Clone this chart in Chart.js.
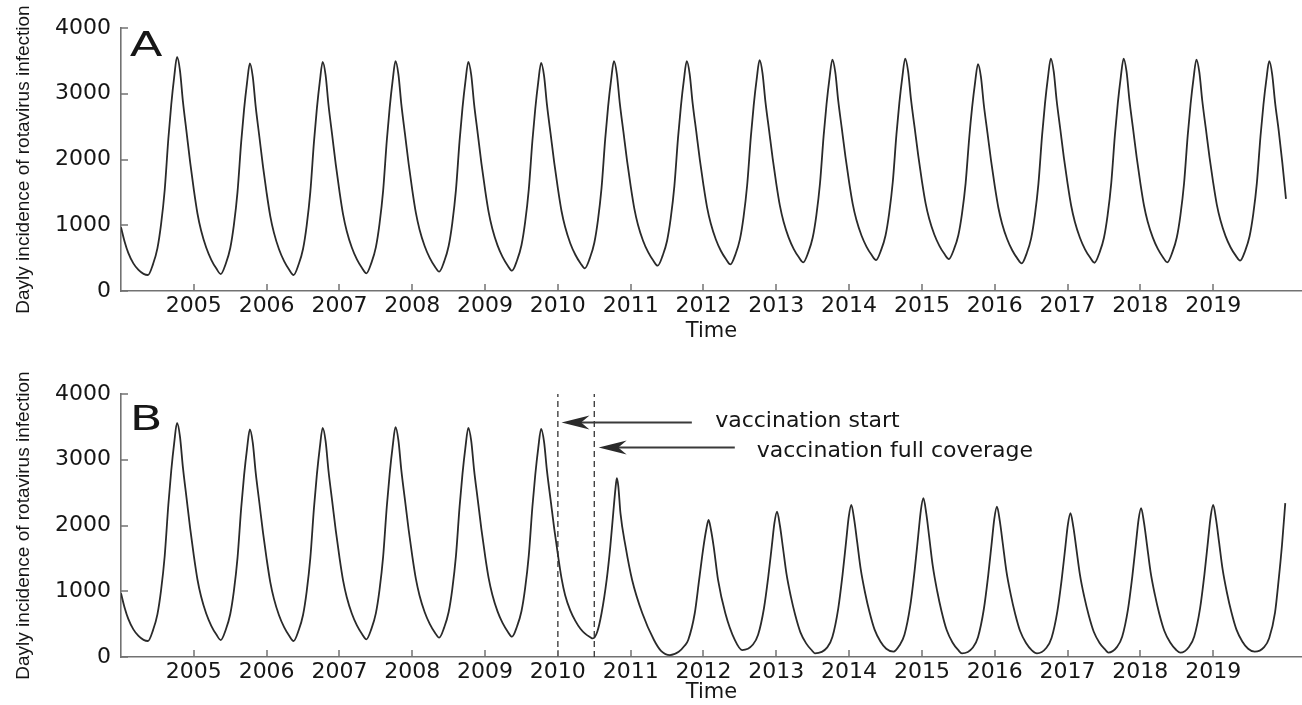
<!DOCTYPE html>
<html>
<head>
<meta charset="utf-8">
<script src="https://cdn.jsdelivr.net/npm/chart.js@4.4.1/dist/chart.umd.min.js"></script>
<style>
  html, body { margin: 0; padding: 0; background: #ffffff; }
  #wrap { position: relative; width: 1302px; height: 705px; overflow: hidden; }
  .panel { position: absolute; left: 0; width: 1302px; }
  #panelA { top: 0; height: 352px; }
  #panelB { top: 352px; height: 353px; }
</style>
</head>
<body>
<div id="wrap">
  <div class="panel" id="panelA"><canvas id="chartA"></canvas></div>
  <div class="panel" id="panelB"><canvas id="chartB"></canvas></div>
</div>
<script>
// ---- Data -------------------------------------------------------------
// Each season row holds the daily incidence sampled at the same fractions of the year.
const seasonYears = [2004, 2005, 2006, 2007, 2008, 2009, 2010, 2011,
                     2012, 2013, 2014, 2015, 2016, 2017, 2018, 2019];
const sampleOffsets = [0.00, 0.05, 0.10, 0.17, 0.24, 0.31, 0.37, 0.44, 0.50, 0.55,
                       0.60, 0.65, 0.69, 0.73, 0.77, 0.81, 0.85, 0.90, 0.95];

// Scenario A: no vaccination
const incidenceA = [
  [ 970,  750,  580,  420,  320,  260,  243,  409,  649, 1013, 1533, 2312, 2833, 3249, 3560, 3353, 2887, 2421, 1955],
  [1541, 1179,  920,  662,  475,  341,  258,  418,  650, 1001, 1503, 2256, 2758, 3159, 3460, 3257, 2803, 2350, 1896],
  [1493, 1140,  888,  636,  455,  324,  243,  406,  639,  995, 1503, 2265, 2773, 3180, 3485, 3283, 2829, 2376, 1922],
  [1519, 1166,  914,  662,  481,  350,  269,  431,  663, 1017, 1523, 2281, 2786, 3191, 3495, 3294, 2842, 2390, 1939],
  [1538, 1187,  936,  685,  505,  374,  294,  454,  684, 1034, 1534, 2284, 2784, 3184, 3485, 3287, 2839, 2391, 1942],
  [1544, 1195,  946,  697,  518,  389,  309,  468,  695, 1042, 1538, 2281, 2776, 3173, 3470, 3275, 2834, 2393, 1952],
  [1560, 1217,  972,  727,  551,  423,  345,  503,  730, 1075, 1569, 2309, 2803, 3198, 3495, 3300, 2862, 2423, 1984],
  [1594, 1253, 1009,  765,  590,  463,  385,  541,  765, 1107, 1594, 2325, 2813, 3203, 3495, 3302, 2866, 2430, 1994],
  [1607, 1267, 1025,  783,  608,  483,  405,  561,  785, 1125, 1612, 2341, 2828, 3217, 3510, 3318, 2885, 2451, 2017],
  [1631, 1294, 1053,  812,  638,  513,  436,  591,  813, 1152, 1635, 2360, 2844, 3231, 3520, 3329, 2899, 2469, 2039],
  [1656, 1322, 1083,  844,  672,  547,  471,  625,  845, 1181, 1661, 2381, 2861, 3245, 3535, 3344, 2914, 2484, 2054],
  [1671, 1337, 1098,  859,  687,  562,  486,  635,  848, 1174, 1638, 2335, 2799, 3171, 3450, 3260, 2833, 2406, 1978],
  [1598, 1266, 1028,  791,  620,  496,  420,  576,  801, 1142, 1630, 2362, 2850, 3241, 3535, 3339, 2901, 2464, 2026],
  [1637, 1296, 1053,  809,  634,  508,  430,  586,  809, 1150, 1637, 2366, 2853, 3242, 3535, 3339, 2902, 2465, 2028],
  [1640, 1300, 1057,  815,  640,  514,  436,  591,  813, 1152, 1635, 2360, 2844, 3231, 3520, 3328, 2897, 2465, 2034],
  [1650, 1314, 1075,  835,  662,  538,  461,  613,  832, 1165, 1640, 2354, 2829, 3210, 3495, 3300, 2870, 2440, 1950]
];
const endTimeA = 2020.0;
const endValueA = 1400;

// Scenario B: identical to A for the seasons before the vaccine is introduced
const sharedSeasonsB = 6;   // 2004–2009

// Scenario B after vaccination starts (decimal years, daily incidence)
const postVaccineTimes = [
  2010.00, 2010.05, 2010.10, 2010.17, 2010.24, 2010.31, 2010.37, 2010.44, 2010.48,
  2010.54, 2010.60, 2010.67, 2010.72, 2010.76, 2010.79, 2010.81, 2010.83, 2010.86, 2010.93, 2011.02, 2011.16, 2011.32, 2011.42, 2011.54,
  2011.66, 2011.74, 2011.79, 2011.88, 2011.94, 2012.00, 2012.04, 2012.07, 2012.10, 2012.14, 2012.20, 2012.30, 2012.43, 2012.53,
  2012.68, 2012.75, 2012.83, 2012.89, 2012.94, 2012.975, 2013.01, 2013.05, 2013.09, 2013.14, 2013.20, 2013.26, 2013.33, 2013.41, 2013.49, 2013.53,
  2013.70, 2013.77, 2013.85, 2013.91, 2013.96, 2013.995, 2014.03, 2014.07, 2014.11, 2014.16, 2014.22, 2014.28, 2014.35, 2014.43, 2014.51, 2014.61,
  2014.69, 2014.76, 2014.84, 2014.90, 2014.95, 2014.985, 2015.02, 2015.06, 2015.10, 2015.15, 2015.21, 2015.27, 2015.34, 2015.42, 2015.50, 2015.55,
  2015.70, 2015.77, 2015.85, 2015.91, 2015.96, 2015.995, 2016.03, 2016.07, 2016.11, 2016.16, 2016.22, 2016.28, 2016.35, 2016.43, 2016.51, 2016.58,
  2016.71, 2016.78, 2016.86, 2016.92, 2016.97, 2017.005, 2017.04, 2017.08, 2017.12, 2017.17, 2017.23, 2017.29, 2017.36, 2017.44, 2017.52, 2017.56,
  2017.68, 2017.75, 2017.83, 2017.89, 2017.94, 2017.975, 2018.01, 2018.05, 2018.09, 2018.14, 2018.20, 2018.26, 2018.33, 2018.41, 2018.49, 2018.55,
  2018.67, 2018.74, 2018.82, 2018.88, 2018.93, 2018.965, 2019.00, 2019.04, 2019.08, 2019.13, 2019.19, 2019.25, 2019.32, 2019.40, 2019.48, 2019.57,
  2019.70, 2019.77, 2019.85, 2019.90, 2019.945, 2019.99
];
const postVaccineValues = [
  1560, 1200, 940, 710, 550, 430, 360, 305, 282,
  380, 665, 1172, 1679, 2183, 2550, 2720, 2600, 2183, 1679, 1172, 665, 259, 90, 30,
  80, 170, 259, 665, 1172, 1679, 1950, 2085, 1950, 1679, 1172, 665, 259, 106,
  190, 338, 738, 1222, 1706, 2044, 2212, 1996, 1673, 1263, 918, 638, 379, 207, 99, 56,
  146, 304, 733, 1252, 1771, 2132, 2313, 2090, 1755, 1331, 974, 684, 416, 237, 126, 81,
  174, 338, 781, 1318, 1855, 2228, 2415, 2179, 1825, 1377, 1000, 693, 410, 221, 103, 56,
  145, 302, 726, 1239, 1752, 2109, 2288, 2065, 1730, 1306, 949, 659, 391, 212, 101, 56,
  141, 290, 695, 1185, 1676, 2017, 2187, 1975, 1657, 1254, 914, 639, 384, 214, 108, 66,
  154, 308, 725, 1230, 1736, 2087, 2263, 2043, 1714, 1296, 945, 659, 396, 220, 110, 66,
  156, 313, 740, 1257, 1774, 2133, 2313, 2090, 1755, 1331, 974, 684, 416, 237, 126, 81,
  150, 290, 680, 1180, 1700, 2340
];

const vaccinationStart = 2010.0;
const vaccinationFullCoverage = 2010.5;

const yearTicks = [2005, 2006, 2007, 2008, 2009, 2010, 2011, 2012,
                   2013, 2014, 2015, 2016, 2017, 2018, 2019];
const incidenceTicks = [0, 1000, 2000, 3000, 4000];

// ---- Build point lists for the line datasets -------------------------
function seasonalPoints(rows) {
  const pts = [];
  rows.forEach((row, i) => {
    row.forEach((v, j) => pts.push({ x: seasonYears[i] + sampleOffsets[j], y: v }));
  });
  return pts;
}
const pointsA = seasonalPoints(incidenceA).concat([{ x: endTimeA, y: endValueA }]);
const pointsB = seasonalPoints(incidenceA.slice(0, sharedSeasonsB))
  .concat(postVaccineTimes.map((t, i) => ({ x: t, y: postVaccineValues[i] })));

// ---- Styling ----------------------------------------------------------
const TEXT = '#161616';
const AXIS = '#727272';
const LINE = '#2a2a2a';
const TICK_FONT = { family: 'DejaVu Sans', size: 22 };

// Matlab-style tick marks pointing into the plot area
const inwardTicks = {
  id: 'inwardTicks',
  afterDraw(chart, _args, o) {
    const { ctx, chartArea, scales: { x, y } } = chart;
    ctx.save();
    ctx.strokeStyle = o.color;
    ctx.lineWidth = 1.5;
    x.ticks.forEach(t => {
      const px = Math.round(x.getPixelForValue(t.value));
      ctx.beginPath();
      ctx.moveTo(px, chartArea.bottom);
      ctx.lineTo(px, chartArea.bottom - o.length);
      ctx.stroke();
    });
    y.ticks.forEach(t => {
      const py = Math.round(y.getPixelForValue(t.value));
      ctx.beginPath();
      ctx.moveTo(chartArea.left, py);
      ctx.lineTo(chartArea.left + o.length, py);
      ctx.stroke();
    });
    ctx.restore();
  }
};

// Panel letter in the upper-left corner
const panelLetter = {
  id: 'panelLetter',
  afterDraw(chart, _args, o) {
    const { ctx, scales: { x, y } } = chart;
    ctx.save();
    ctx.font = o.font;
    ctx.fillStyle = TEXT;
    ctx.textAlign = 'left';
    ctx.textBaseline = 'alphabetic';
    ctx.translate(x.getPixelForValue(o.x), y.getPixelForValue(o.y));
    ctx.scale(o.stretch, 1);
    ctx.fillText(o.text, 0, 0);
    ctx.restore();
  }
};

// Arrows with captions pointing at the vaccination markers
const vaccineNotes = {
  id: 'vaccineNotes',
  afterDatasetsDraw(chart, _args, o) {
    if (!o.items) return;
    const { ctx, scales: { x, y } } = chart;
    o.items.forEach(it => {
      const tip = x.getPixelForValue(it.tip);
      const tail = x.getPixelForValue(it.tail);
      const ay = Math.round(y.getPixelForValue(it.level)) + 0.5;
      ctx.save();
      ctx.strokeStyle = '#3a3a3a';
      ctx.fillStyle = '#2a2a2a';
      ctx.lineWidth = 1.8;
      ctx.beginPath();
      ctx.moveTo(tail, ay);
      ctx.lineTo(tip + o.headLength * 0.6, ay);
      ctx.stroke();
      ctx.beginPath();
      ctx.moveTo(tip, ay);
      ctx.lineTo(tip + o.headLength, ay - o.headWidth);
      ctx.lineTo(tip + o.headLength * 0.7, ay);
      ctx.lineTo(tip + o.headLength, ay + o.headWidth);
      ctx.closePath();
      ctx.fill();
      ctx.font = o.font;
      ctx.fillStyle = TEXT;
      ctx.textAlign = 'left';
      ctx.textBaseline = 'middle';
      ctx.fillText(it.text, x.getPixelForValue(it.textX), y.getPixelForValue(it.textY));
      ctx.restore();
    });
  }
};

function panelOptions(cfg) {
  return {
    responsive: true,
    maintainAspectRatio: false,
    animation: false,
    devicePixelRatio: 1,
    layout: { padding: { top: cfg.padTop, right: 0, bottom: 0, left: 0 } },
    plugins: {
      legend: { display: false },
      tooltip: { enabled: false },
      inwardTicks: { color: AXIS, length: 7 },
      panelLetter: cfg.letter,
      vaccineNotes: cfg.notes || {}
    },
    elements: { point: { radius: 0 } },
    scales: {
      x: {
        type: 'linear',
        min: 2004,
        max: 2020.22,
        afterBuildTicks: s => { s.ticks = yearTicks.map(v => ({ value: v })); },
        afterFit: s => { s.height = cfg.xAxisHeight; },
        grid: { display: false, drawTicks: false },
        border: { display: true, color: AXIS, width: 1.6 },
        ticks: {
          color: TEXT, font: TICK_FONT, padding: 2, maxRotation: 0, autoSkip: false,
          callback: v => String(v)
        },
        title: {
          display: true, text: 'Time', color: TEXT,
          font: { family: 'DejaVu Sans', size: 21 },
          padding: { top: 0, bottom: cfg.timePad }
        }
      },
      y: {
        type: 'linear',
        min: 0,
        max: 4000,
        afterBuildTicks: s => { s.ticks = incidenceTicks.map(v => ({ value: v })); },
        afterFit: s => { s.width = 121; },
        grid: { display: false, drawTicks: false },
        border: { display: true, color: AXIS, width: 1.6 },
        ticks: { color: TEXT, font: TICK_FONT, padding: 10, callback: v => String(v) },
        title: {
          display: true, text: 'Dayly incidence of rotavirus infection', color: TEXT,
          font: { family: 'Liberation Sans', size: 19 },
          padding: { top: 12, bottom: 0 }
        }
      }
    }
  };
}

function lineDataset(points) {
  return {
    data: points,
    borderColor: LINE,
    borderWidth: 1.8,
    pointRadius: 0,
    cubicInterpolationMode: 'monotone',
    fill: false
  };
}
function markerDataset(at) {
  return {
    data: [{ x: at, y: 0 }, { x: at, y: 4000 }],
    borderColor: '#333333',
    borderWidth: 1.3,
    borderDash: [6, 4],
    pointRadius: 0,
    fill: false
  };
}

new Chart(document.getElementById('chartA'), {
  type: 'line',
  data: { datasets: [lineDataset(pointsA)] },
  options: panelOptions({
    padTop: 28, xAxisHeight: 61, timePad: 8,
    letter: { text: 'A', x: 2004.12, y: 3570, font: '33px "DejaVu Sans"', stretch: 1.45 }
  }),
  plugins: [inwardTicks, panelLetter, vaccineNotes]
});

new Chart(document.getElementById('chartB'), {
  type: 'line',
  data: { datasets: [lineDataset(pointsB), markerDataset(vaccinationStart), markerDataset(vaccinationFullCoverage)] },
  options: panelOptions({
    padTop: 42, xAxisHeight: 48, timePad: 0,
    letter: { text: 'B', x: 2004.12, y: 3455, font: '33px "DejaVu Sans"', stretch: 1.45 },
    notes: {
      font: '22px "DejaVu Sans"', headLength: 28, headWidth: 7,
      items: [
        { text: 'vaccination start', tip: 2010.05, tail: 2011.84, level: 3580, textX: 2012.16, textY: 3580 },
        { text: 'vaccination full coverage', tip: 2010.56, tail: 2012.43, level: 3200, textX: 2012.73, textY: 3125 }
      ]
    }
  }),
  plugins: [inwardTicks, panelLetter, vaccineNotes]
});
</script>
</body>
</html>
